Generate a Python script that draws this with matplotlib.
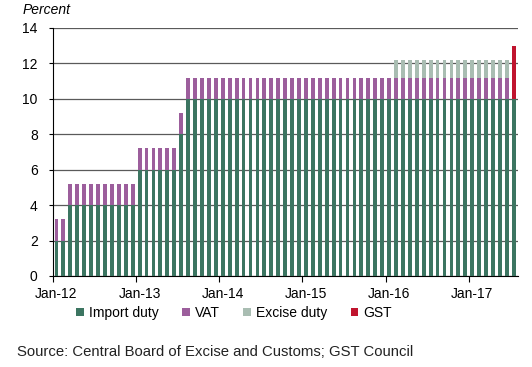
import numpy as np
import pandas as pd
import matplotlib
matplotlib.use('Agg')
import matplotlib.pyplot as plt
from matplotlib.patches import Patch

plt.rcParams['font.family'] = ['Liberation Sans', 'DejaVu Sans']

# monthly series, Jan-12 .. Jul-17 (values in percent)
months = pd.date_range('2012-01-01', periods=67, freq='MS')

import_duty = [2, 2, 4, 4, 4, 4, 4, 4, 4, 4, 4, 4,          # 2012
               6, 6, 6, 6, 6, 6, 8, 10, 10, 10, 10, 10,     # 2013
               10, 10, 10, 10, 10, 10, 10, 10, 10, 10, 10, 10,  # 2014
               10, 10, 10, 10, 10, 10, 10, 10, 10, 10, 10, 10,  # 2015
               10, 10, 10, 10, 10, 10, 10, 10, 10, 10, 10, 10,  # 2016
               10, 10, 10, 10, 10, 10, 10]                  # 2017
vat = [1.2, 1.2, 1.2, 1.2, 1.2, 1.2, 1.2, 1.2, 1.2, 1.2, 1.2, 1.2,
       1.2, 1.2, 1.2, 1.2, 1.2, 1.2, 1.2, 1.2, 1.2, 1.2, 1.2, 1.2,
       1.2, 1.2, 1.2, 1.2, 1.2, 1.2, 1.2, 1.2, 1.2, 1.2, 1.2, 1.2,
       1.2, 1.2, 1.2, 1.2, 1.2, 1.2, 1.2, 1.2, 1.2, 1.2, 1.2, 1.2,
       1.2, 1.2, 1.2, 1.2, 1.2, 1.2, 1.2, 1.2, 1.2, 1.2, 1.2, 1.2,
       1.2, 1.2, 1.2, 1.2, 1.2, 1.2, 0]
excise = [0, 0, 0, 0, 0, 0, 0, 0, 0, 0, 0, 0,
          0, 0, 0, 0, 0, 0, 0, 0, 0, 0, 0, 0,
          0, 0, 0, 0, 0, 0, 0, 0, 0, 0, 0, 0,
          0, 0, 0, 0, 0, 0, 0, 0, 0, 0, 0, 0,
          0, 1, 1, 1, 1, 1, 1, 1, 1, 1, 1, 1,
          1, 1, 1, 1, 1, 1, 0]
gst = [0, 0, 0, 0, 0, 0, 0, 0, 0, 0, 0, 0,
       0, 0, 0, 0, 0, 0, 0, 0, 0, 0, 0, 0,
       0, 0, 0, 0, 0, 0, 0, 0, 0, 0, 0, 0,
       0, 0, 0, 0, 0, 0, 0, 0, 0, 0, 0, 0,
       0, 0, 0, 0, 0, 0, 0, 0, 0, 0, 0, 0,
       0, 0, 0, 0, 0, 0, 3]

series = [('Import duty', import_duty, '#3c7561'),
          ('VAT', vat, '#9c5e9c'),
          ('Excise duty', excise, '#a9bdb2'),
          ('GST', gst, '#c0142e')]

fig = plt.figure(figsize=(5.32, 3.67), dpi=100)
ax = fig.add_axes([0.0996, 0.248, 0.874, 0.676])

x = np.arange(len(months))
bottom = np.zeros(len(months))
for name, vals, col in series:
    vals = np.array(vals, dtype=float)
    ax.bar(x, vals, bottom=bottom, width=0.55, color=col, zorder=3, linewidth=0)
    bottom += vals

ax.set_ylim(0, 14)
ax.set_yticks(np.arange(0, 15, 2))
ax.set_xlim(-0.5, 66.6)
ax.yaxis.grid(True, color='#5a5a5a', linewidth=0.9, zorder=0)
ax.set_axisbelow(True)

jan = [i for i, m in enumerate(months) if m.month == 1]
ax.set_xticks(jan)
ax.set_xticklabels([months[i].strftime('%b-%y') for i in jan])
ax.set_xticks([i - 0.5 for i in jan], minor=True)
ax.tick_params(axis='x', which='major', length=0, pad=8, labelsize=10)
ax.tick_params(axis='x', which='minor', length=4, color='black', width=0.8)
ax.tick_params(axis='y', length=3, color='black', width=0.8, pad=8, labelsize=10)

for s in ['top', 'right']:
    ax.spines[s].set_visible(False)
ax.spines['left'].set_color('black')
ax.spines['bottom'].set_color('black')

fig.text(0.043, 0.972, 'Percent', style='italic', fontsize=10, va='center', ha='left')

handles = [Patch(facecolor=c, edgecolor='none') for _, _, c in series]
fig.legend(handles, [n for n, _, _ in series], loc='center', bbox_to_anchor=(0.44, 0.147),
           ncol=4, frameon=False, fontsize=10, handlelength=0.55, handleheight=0.55,
           handletextpad=0.35, columnspacing=1.7)

fig.text(0.032, 0.04, 'Source: Central Board of Excise and Customs; GST Council',
         fontsize=10.7, color='#222222', va='center', ha='left')

fig.savefig('out.png', dpi=100)
